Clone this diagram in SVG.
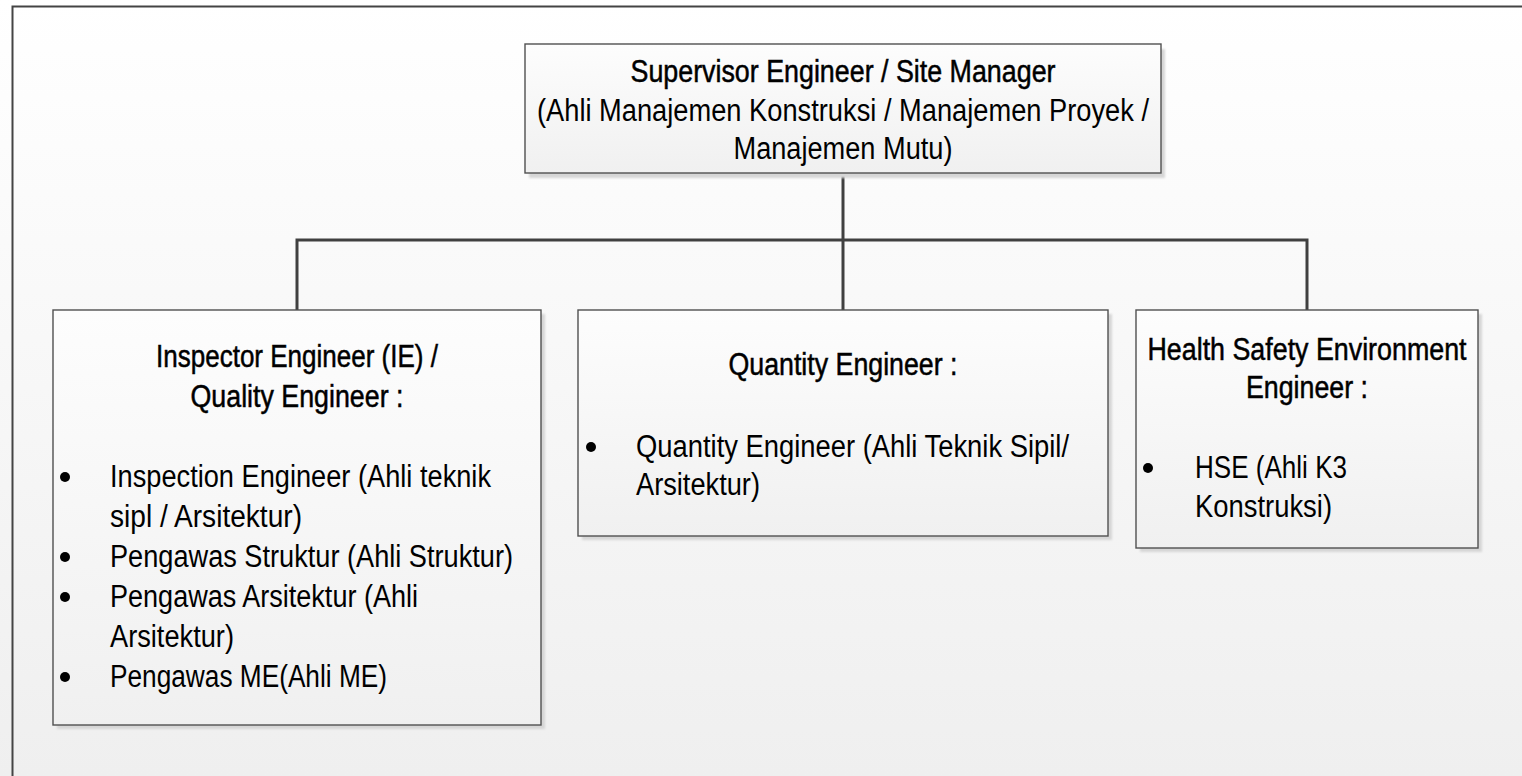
<svg xmlns="http://www.w3.org/2000/svg" width="1522" height="776" viewBox="0 0 1522 776">
<defs>
<linearGradient id="bg" x1="0" y1="0" x2="0" y2="1">
<stop offset="0" stop-color="#ffffff"/>
<stop offset="1" stop-color="#efefef"/>
</linearGradient>
<linearGradient id="boxfill" x1="0" y1="0" x2="0" y2="1">
<stop offset="0" stop-color="#fdfdfd"/>
<stop offset="1" stop-color="#f0f0f0"/>
</linearGradient>
<filter id="sh" x="-5%" y="-5%" width="115%" height="115%">
<feGaussianBlur stdDeviation="1"/>
</filter>
</defs>
<style>
.box{fill:url(#boxfill);stroke:#505050;stroke-width:1.4}
.shadow{fill:#d6d6d6;filter:url(#sh)}
.conn{stroke:#404040;stroke-width:3;fill:none}
.t{font-family:"Liberation Sans",Arial,sans-serif;fill:#000;font-size:31px}
.h{font-family:"Liberation Sans",Arial,sans-serif;fill:#000;font-size:31px;stroke:#000;stroke-width:0.5;text-anchor:middle}
.m{text-anchor:middle}
.b{fill:#000}
</style>
<rect x="0" y="0" width="1522" height="776" fill="url(#bg)"/>
<path d="M12.5 776 V6.5 H1522" fill="none" stroke="#444" stroke-width="2"/>
<g id="connectors">
<path class="conn" d="M843 173 V310"/>
<path class="conn" d="M297 310 V240 H1307 V310"/>
</g>
<g id="node-top">
<rect class="shadow" x="529" y="49" width="636" height="129"/>
<rect class="box" x="525" y="44" width="636" height="129"/>
<text class="h" x="843" y="82" textLength="425" lengthAdjust="spacingAndGlyphs">Supervisor Engineer / Site Manager</text>
<text class="t m" x="843" y="121" textLength="612" lengthAdjust="spacingAndGlyphs">(Ahli Manajemen Konstruksi / Manajemen Proyek /</text>
<text class="t m" x="843" y="159" textLength="219" lengthAdjust="spacingAndGlyphs">Manajemen Mutu)</text>
</g>
<g id="node-ie">
<rect class="shadow" x="57" y="314" width="488" height="415"/>
<rect class="box" x="53" y="310" width="488" height="415"/>
<text class="h" x="297" y="367" textLength="282" lengthAdjust="spacingAndGlyphs">Inspector Engineer (IE) /</text>
<text class="h" x="297" y="407" textLength="213" lengthAdjust="spacingAndGlyphs">Quality Engineer :</text>
<circle class="b" cx="65" cy="477" r="5"/>
<text class="t" x="110" y="487" textLength="381" lengthAdjust="spacingAndGlyphs">Inspection Engineer (Ahli teknik</text>
<text class="t" x="110" y="527" textLength="192" lengthAdjust="spacingAndGlyphs">sipl / Arsitektur)</text>
<circle class="b" cx="65" cy="557" r="5"/>
<text class="t" x="110" y="567" textLength="403" lengthAdjust="spacingAndGlyphs">Pengawas Struktur (Ahli Struktur)</text>
<circle class="b" cx="65" cy="597" r="5"/>
<text class="t" x="110" y="607" textLength="308" lengthAdjust="spacingAndGlyphs">Pengawas Arsitektur (Ahli</text>
<text class="t" x="110" y="647" textLength="124" lengthAdjust="spacingAndGlyphs">Arsitektur)</text>
<circle class="b" cx="65" cy="677" r="5"/>
<text class="t" x="110" y="687" textLength="277" lengthAdjust="spacingAndGlyphs">Pengawas ME(Ahli ME)</text>
</g>
<g id="node-qe">
<rect class="shadow" x="582" y="314" width="530" height="226"/>
<rect class="box" x="578" y="310" width="530" height="226"/>
<text class="h" x="843" y="375" textLength="229" lengthAdjust="spacingAndGlyphs">Quantity Engineer :</text>
<circle class="b" cx="591" cy="447" r="5"/>
<text class="t" x="636" y="457" textLength="433" lengthAdjust="spacingAndGlyphs">Quantity Engineer (Ahli Teknik Sipil/</text>
<text class="t" x="636" y="495" textLength="124" lengthAdjust="spacingAndGlyphs">Arsitektur)</text>
</g>
<g id="node-hse">
<rect class="shadow" x="1140" y="314" width="342" height="238"/>
<rect class="box" x="1136" y="310" width="342" height="238"/>
<text class="h" x="1307" y="360" textLength="319" lengthAdjust="spacingAndGlyphs">Health Safety Environment</text>
<text class="h" x="1307" y="398" textLength="122" lengthAdjust="spacingAndGlyphs">Engineer :</text>
<circle class="b" cx="1148" cy="468" r="5"/>
<text class="t" x="1195" y="478" textLength="152" lengthAdjust="spacingAndGlyphs">HSE (Ahli K3</text>
<text class="t" x="1195" y="517" textLength="137" lengthAdjust="spacingAndGlyphs">Konstruksi)</text>
</g>
</svg>
